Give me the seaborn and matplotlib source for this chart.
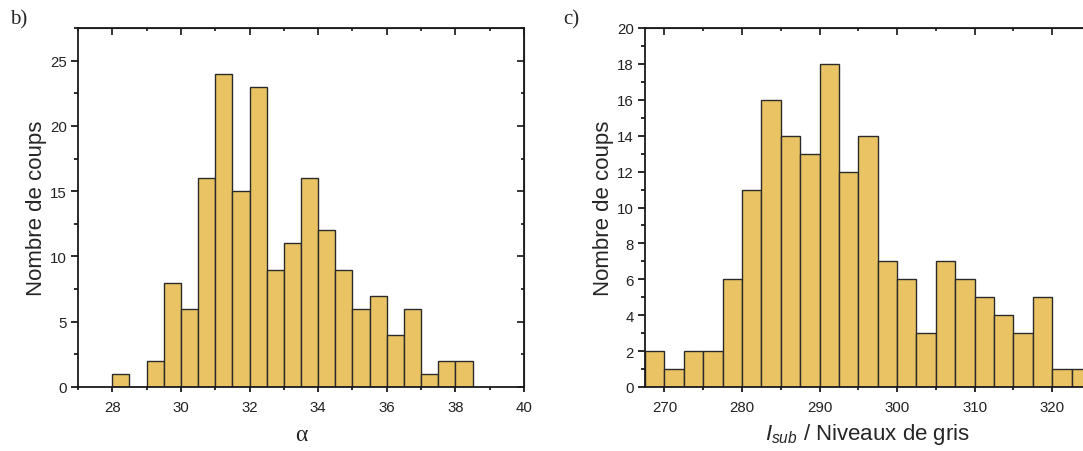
import pandas as pd
import matplotlib
matplotlib.use("Agg")
import matplotlib.pyplot as plt
from matplotlib.ticker import MultipleLocator
import seaborn as sns

# panel b) : alpha histogram (bin centres, width 0.5)
alpha_centers = [28.25, 28.75, 29.25, 29.75, 30.25, 30.75, 31.25, 31.75, 32.25, 32.75,
                 33.25, 33.75, 34.25, 34.75, 35.25, 35.75, 36.25, 36.75, 37.25, 37.75, 38.25]
alpha_counts = [1, 0, 2, 8, 6, 16, 24, 15, 23, 9, 11, 16, 12, 9, 6, 7, 4, 6, 1, 2, 2]
alpha_bin = 0.5

# panel c) : I_sub histogram (bin centres, width 2.5)
isub_centers = [268.75, 271.25, 273.75, 276.25, 278.75, 281.25, 283.75, 286.25, 288.75,
                291.25, 293.75, 296.25, 298.75, 301.25, 303.75, 306.25, 308.75, 311.25,
                313.75, 316.25, 318.75, 321.25, 323.75]
isub_counts = [2, 1, 2, 2, 6, 11, 16, 14, 13, 18, 12, 14, 7, 6, 3, 7, 6, 5, 4, 3, 5, 1, 1]
isub_bin = 2.5

bar_color = "#EAC464"
edge_color = "#2b2b2b"

sns.set_style("ticks")
plt.rcParams["font.family"] = ["Liberation Sans", "DejaVu Sans"]
plt.rcParams["mathtext.fontset"] = "custom"
plt.rcParams["mathtext.it"] = "Liberation Sans:italic"
plt.rcParams["mathtext.rm"] = "Liberation Sans"

fig = plt.figure(figsize=(10.83, 4.52), dpi=100)
ax_b = fig.add_axes([78 / 1083, 64 / 452, 446 / 1083, 359 / 452])
ax_c = fig.add_axes([645 / 1083, 64 / 452, 446 / 1083, 359 / 452])


def draw_hist(ax, centers, counts, width, xlim, ylim, xmaj, xmin, ymaj, ymin):
    df = pd.DataFrame({"x": centers, "n": counts})
    lo = centers[0] - width / 2
    hi = centers[-1] + width / 2
    sns.histplot(data=df, x="x", weights="n", binwidth=width, binrange=(lo, hi), ax=ax,
                 color=bar_color, edgecolor=edge_color, linewidth=1.0, alpha=1)
    ax.set_xlim(*xlim)
    ax.set_ylim(*ylim)
    for s in ax.spines.values():
        s.set_visible(True)
        s.set_linewidth(1.3)
        s.set_color("#1a1a1a")
    ax.xaxis.set_major_locator(MultipleLocator(xmaj))
    ax.xaxis.set_minor_locator(MultipleLocator(xmin))
    ax.yaxis.set_major_locator(MultipleLocator(ymaj))
    ax.yaxis.set_minor_locator(MultipleLocator(ymin))
    ax.tick_params(which="both", direction="out", width=1.3, colors="#1a1a1a",
                   labelcolor="#222222", labelsize=10.8)
    ax.tick_params(axis="x", which="major", length=3.5, pad=6)
    ax.tick_params(axis="x", which="minor", length=2)
    ax.tick_params(axis="y", which="major", length=5, pad=3)
    ax.tick_params(axis="y", which="minor", length=3)
    # mirrored ticks on top/right, pointing inward
    top = ax.secondary_xaxis("top")
    top.xaxis.set_major_locator(MultipleLocator(xmaj))
    top.xaxis.set_minor_locator(MultipleLocator(xmin))
    top.tick_params(which="major", direction="in", length=5, width=1.3, labeltop=False)
    top.tick_params(which="minor", direction="in", length=2.5, width=1.3)
    right = ax.secondary_yaxis("right")
    right.yaxis.set_major_locator(MultipleLocator(ymaj))
    right.yaxis.set_minor_locator(MultipleLocator(ymin))
    right.tick_params(which="major", direction="in", length=5, width=1.3, labelright=False)
    right.tick_params(which="minor", direction="in", length=2.5, width=1.3)
    ax.set_ylabel("Nombre de coups", fontsize=16, labelpad=2)


draw_hist(ax_b, alpha_centers, alpha_counts, alpha_bin,
          (27, 40), (0, 27.5), 2, 1, 5, 2.5)
draw_hist(ax_c, isub_centers, isub_counts, isub_bin,
          (267.5, 325), (0, 20), 10, 5, 2, 1)

ax_b.set_xlabel("\u03b1", fontsize=17, family=["Liberation Serif", "DejaVu Serif"], labelpad=7)
ax_c.set_xlabel(r"$I_{sub}$ / Niveaux de gris", fontsize=16, labelpad=5)

fig.text(10 / 1083, 1 - 20 / 452, "b)", fontsize=15, family=["Liberation Serif"], va="center")
fig.text(563 / 1083, 1 - 20 / 452, "c)", fontsize=15, family=["Liberation Serif"], va="center")

fig.savefig("out.png", dpi=100)
